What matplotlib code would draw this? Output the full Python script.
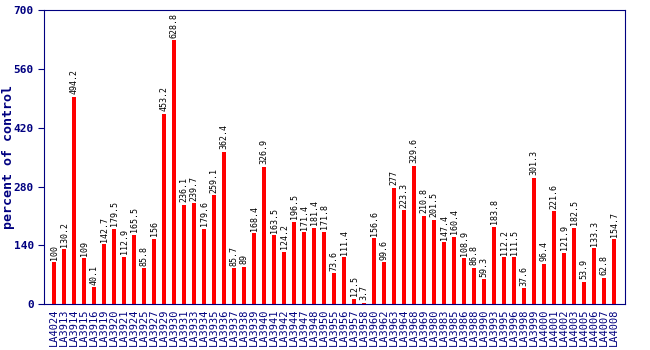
import matplotlib
matplotlib.use("Agg")
import matplotlib.pyplot as plt
import numpy as np

# accessions and their values (percent of control)
labels = ["LA4024", "LA3913", "LA3914", "LA3915", "LA3916", "LA3919", "LA3920",
          "LA3921", "LA3924", "LA3925", "LA3927", "LA3929", "LA3930", "LA3931",
          "LA3933", "LA3934", "LA3935", "LA3936", "LA3937", "LA3938", "LA3939",
          "LA3940", "LA3941", "LA3942", "LA3944", "LA3947", "LA3948", "LA3950",
          "LA3955", "LA3956", "LA3957", "LA3958", "LA3960", "LA3962", "LA3963",
          "LA3964", "LA3968", "LA3969", "LA3980", "LA3983", "LA3985", "LA3986",
          "LA3988", "LA3990", "LA3993", "LA3995", "LA3996", "LA3998", "LA3999",
          "LA4000", "LA4001", "LA4002", "LA4003", "LA4005", "LA4006", "LA4007",
          "LA4008"]
values = [100, 130.2, 494.2, 109, 40.1, 142.7, 179.5, 112.9, 165.5, 85.8, 156,
          453.2, 628.8, 236.1, 239.7, 179.6, 259.1, 362.4, 85.7, 89, 168.4,
          326.9, 163.5, 124.2, 196.5, 171.4, 181.4, 171.8, 73.6, 111.4, 12.5,
          3.7, 156.6, 99.6, 277, 223.3, 329.6, 210.8, 201.5, 147.4, 160.4,
          108.9, 86.8, 59.3, 183.8, 112.2, 111.5, 37.6, 301.3, 96.4, 221.6,
          121.9, 182.5, 53.9, 133.3, 62.8, 154.7]
yticks = [0, 140, 280, 420, 560, 700]

navy = "#000080"
mono = "DejaVu Sans Mono"

fig = plt.figure(figsize=(6.5, 3.5), dpi=100)
ax = fig.add_axes([0.068, 0.131, 0.894, 0.84])

x = np.arange(len(values))
ax.bar(x, values, width=0.4, color="#ff0000")

for xi, v in zip(x, values):
    ax.text(xi, v + 6, f"{v:g}", rotation=90, ha="center", va="bottom",
            fontsize=6, family=mono, color="black")

ax.set_xlim(-1, len(values) + 0.1)
ax.set_ylim(0, 700)
ax.set_yticks(yticks)
ax.set_yticklabels([str(t) for t in yticks], family=mono, fontsize=8,
                   fontweight="bold", color=navy)
ax.set_xticks(x)
ax.set_xticklabels(labels, rotation=90, family=mono, fontsize=7.5, color=navy)
ax.tick_params(axis="x", length=0, pad=3)
ax.tick_params(axis="y", colors=navy, length=4, direction="out")
for s in ax.spines.values():
    s.set_color(navy)

ax.set_ylabel("percent of control", family=mono, fontsize=9.5,
              fontweight="bold", color=navy)
ax.yaxis.set_label_coords(-0.05, 0.5)

fig.savefig("out.png", dpi=100)
